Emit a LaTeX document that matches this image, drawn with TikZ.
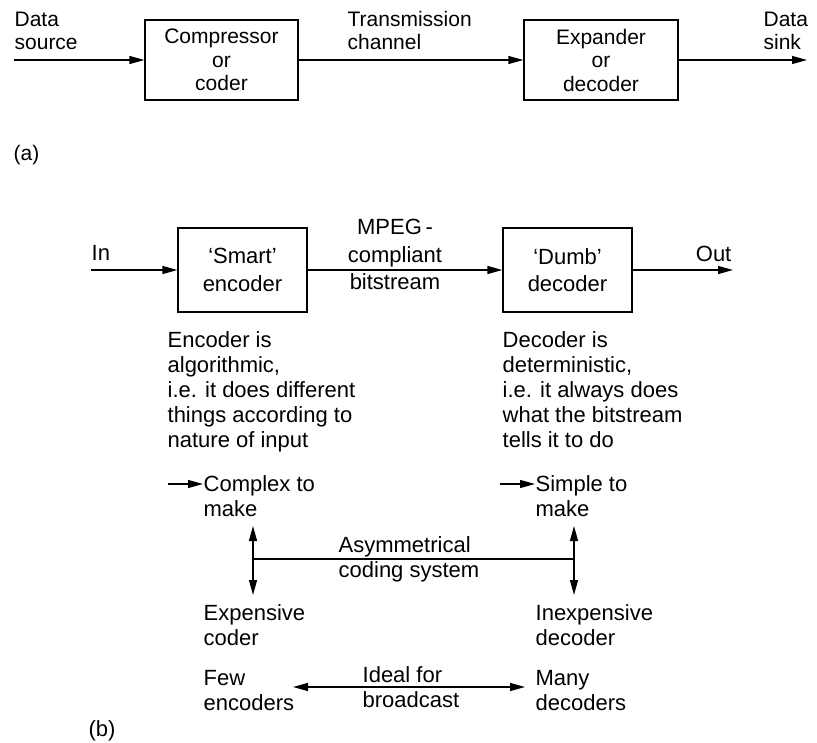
\documentclass[tikz,border=0pt]{standalone}
\usepackage{fontspec}
\setmainfont{Liberation Sans}
\usetikzlibrary{arrows.meta}

\begin{document}
\begin{tikzpicture}[x=1pt,y=-1pt,
  line width=1.3pt,
  tip/.style={-{Triangle[length=15pt,width=8pt]}},
  bitip/.style={{Triangle[length=15pt,width=8pt]}-{Triangle[length=15pt,width=8pt]}},
  fontA/.style={font=\fontsize{21}{23.5}\selectfont},
  fontB/.style={font=\fontsize{22}{25}\selectfont},
  fontM/.style={font=\fontsize{22}{27.5}\selectfont},
  % multi-line labels are placed by the baseline of their last line
  lbl/.style={inner sep=0pt, align=left, anchor=base west},
  block/.style={draw, inner sep=0pt, align=center},
]
\useasboundingbox (0,0) rectangle (817,743);

% ---- (a) general compression chain
\node[block, fontA, minimum width=153pt, minimum height=80pt] (comp) at (221.5,60) {Compressor\\or\\coder};
\node[block, fontA, minimum width=154pt, minimum height=80pt] (exp) at (601,60) {Expander\\or\\decoder};
\coordinate (srcin) at (14,60);
\coordinate (sinkout) at (807,60);
\draw[tip] (srcin) -- (comp);
\draw[tip] (comp) -- (exp);
\draw[tip] (exp) -- (sinkout);

\node[lbl, fontA] (src) at (14,50) {Data\\source};
\node[lbl, fontA] (chan) at (347,50) {Transmission\\channel};
\node[lbl, fontA] (sink) at (763,50) {Data\\sink};
\node[lbl, fontA] (la) at (13,161) {(a)};

% ---- (b) MPEG encoder / decoder
\node[block, fontM, minimum width=129pt, minimum height=84pt] (enc) at (242.5,270) {‘Smart’\\encoder};
\node[block, fontM, minimum width=129pt, minimum height=84pt] (dec) at (567.5,270) {‘Dumb’\\decoder};
\coordinate (inpt) at (91,270);
\coordinate (outpt) at (733,270);
\draw[tip] (inpt) -- (enc);
\draw[tip] (enc) -- (dec);
\draw[tip] (dec) -- (outpt);

\node[lbl, fontB] (in) at (91,261) {In};
\node[fontB, inner sep=0pt, anchor=base east] (out) at (732,262) {Out};
\node[fontM, inner sep=0pt, align=center, anchor=base] (mpeg) at (395,290) {MPEG\,-\\compliant\\bitstream};

\node[lbl, fontB] (encnote) at (167,447) {Encoder is\\algorithmic,\\i.e. it does different\\things according to\\nature of input};
\node[lbl, fontB] (decnote) at (502,447) {Decoder is\\deterministic,\\i.e. it always does\\what the bitstream\\tells it to do};

% ---- properties
\node[lbl, fontB] (complex) at (203,516) {Complex to\\make};
\node[lbl, fontB] (simple) at (535,516) {Simple to\\make};
\coordinate (ca) at (168,484);
\coordinate (sa) at (500,484);
\draw[tip] (ca) -- (ca -| complex.west);
\draw[tip] (sa) -- (sa -| simple.west);

\coordinate (lt) at (253,526);
\coordinate (lm) at (253,559);
\coordinate (lb) at (253,595);
\coordinate (rt) at (574,526);
\coordinate (rm) at (574,559);
\coordinate (rb) at (574,595);
\draw[bitip] (lt) -- (lb);
\draw[bitip] (rt) -- (rb);
\draw (lm) -- (rm);
\node[lbl, fontB] (asym) at (338,577) {Asymmetrical\\coding system};

\node[lbl, fontB] (expc) at (203,645) {Expensive\\coder};
\node[lbl, fontB] (inexp) at (535,645) {Inexpensive\\decoder};

\node[lbl, fontB] (few) at (203,710) {Few\\encoders};
\node[lbl, fontB] (many) at (535,710) {Many\\decoders};
\node[lbl, fontB] (ideal) at (362,707) {Ideal for\\broadcast};
\coordinate (fa) at (293,687);
\coordinate (ma) at (525,687);
\draw[bitip] (fa) -- (ma);

\node[lbl, fontB] (lb2) at (88,736) {(b)};
\end{tikzpicture}
\end{document}
